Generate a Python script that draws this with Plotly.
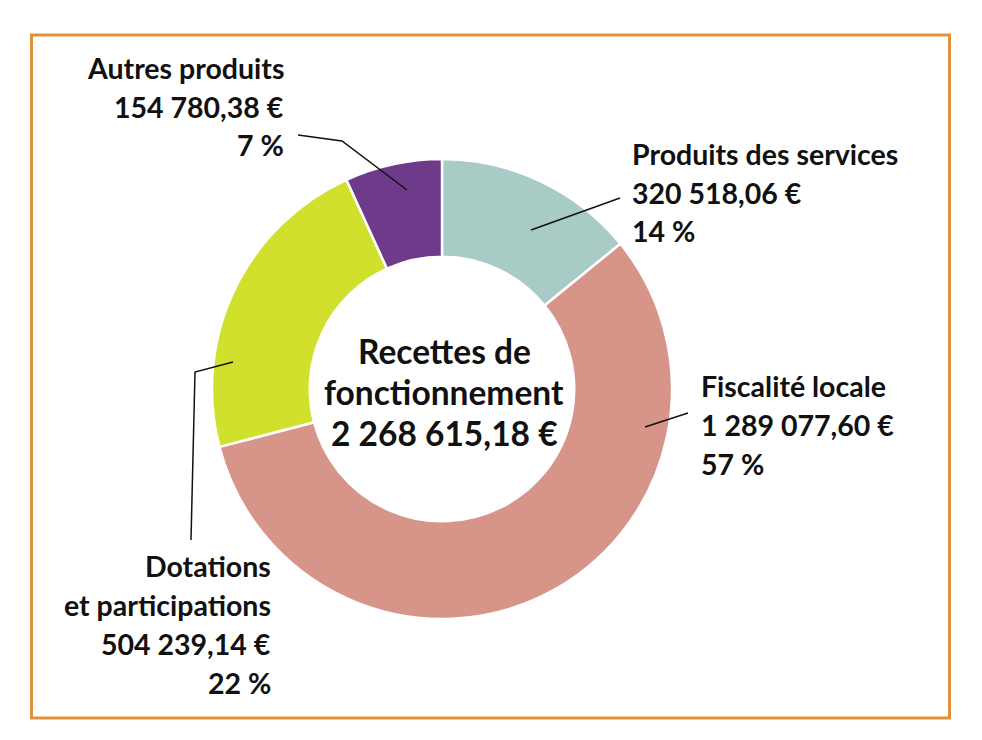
import plotly.graph_objects as go

W, H = 982, 740
OFF = 8  # page margin around the plot div

# data
categories = ["Produits des services", "Fiscalité locale",
              "Dotations et participations", "Autres produits"]
values = [320518.06, 1289077.60, 504239.14, 154780.38]
amount_labels = ["320 518,06 €", "1 289 077,60 €", "504 239,14 €", "154 780,38 €"]
pct_labels = ["14 %", "57 %", "22 %", "7 %"]
colors = ["#A9CBC5", "#D79589", "#D1E02C", "#6F3A8A"]
total_label = "2 268 615,18 €"


def px(x):
    return (x - OFF) / W


def py(y):
    return 1 - (y - OFF) / H


FONT = "Lato"
INK = "#111111"

fig = go.Figure()
fig.add_trace(go.Pie(
    labels=categories,
    values=values,
    sort=False,
    direction="clockwise",
    rotation=0,
    hole=0.575,
    marker=dict(colors=colors, line=dict(color="white", width=2.5)),
    textinfo="none",
    hoverinfo="label+value+percent",
    domain=dict(x=[px(212), px(672)], y=[py(619), py(159)]),
    showlegend=False,
))

annotations = []


def add_lines(lines, x, y0, step, align, size=28.5):
    for i, t in enumerate(lines):
        annotations.append(dict(
            text=t, x=px(x), y=py(y0 + i * step), xref="paper", yref="paper",
            xanchor=align, yanchor="middle", showarrow=False,
            font=dict(family=FONT, size=size, color=INK, weight="bold"),
        ))


# labels around the ring
add_lines([categories[3], amount_labels[3], pct_labels[3]], 286, 68, 38.5, "right")
add_lines([categories[0], amount_labels[0], pct_labels[0]], 630, 154, 38.5, "left")
add_lines([categories[1], amount_labels[1], pct_labels[1]], 699, 386, 39, "left")
add_lines(["Dotations", "et participations", amount_labels[2], pct_labels[2]],
          273, 566, 39, "right")

# centre
add_lines(["Recettes de", "fonctionnement", total_label], 444, 351, 41, "center", size=33.5)

# leader lines
leaders = [
    [(298, 135), (342, 141), (407, 190)],
    [(531, 230), (620, 198)],
    [(645, 427), (688, 413)],
    [(233, 362), (195, 372), (191, 540)],
]
shapes = []
for pts in leaders:
    path = "M " + " L ".join(f"{px(a):.5f},{py(b):.5f}" for a, b in pts)
    shapes.append(dict(type="path", path=path, xref="paper", yref="paper",
                       line=dict(color=INK, width=1.5)))

# orange frame
shapes.append(dict(type="rect", xref="paper", yref="paper",
                   x0=px(31.5), x1=px(949.5), y0=py(35), y1=py(718),
                   line=dict(color="#E0913A", width=3)))

fig.update_layout(
    width=W, height=H,
    margin=dict(l=0, r=0, t=0, b=0),
    paper_bgcolor="white",
    plot_bgcolor="white",
    annotations=annotations,
    shapes=shapes,
)

fig.write_html("out.html")
